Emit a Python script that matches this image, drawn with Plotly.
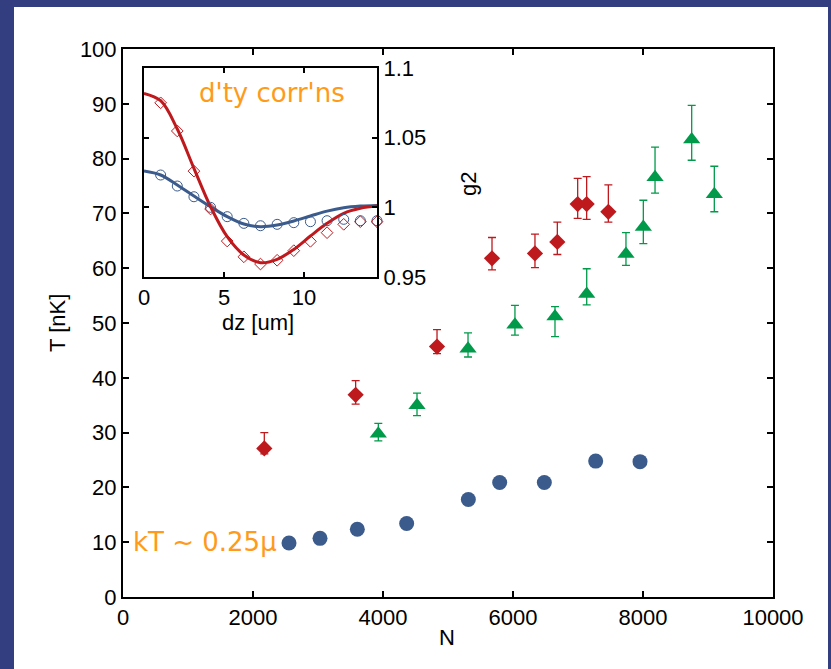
import plotly.graph_objects as go

# ---- main panel: temperature vs atom number ----
n_blue = [2554, 3031, 3605, 4364, 5313, 5795, 6482, 7272, 7954]
t_blue = [9.85, 10.7, 12.35, 13.4, 17.8, 20.9, 20.9, 24.8, 24.7]

n_red = [2174, 3579, 4831, 5677, 6338, 6682, 6995, 7133, 7467]
t_red = [27.1, 36.9, 45.7, 61.8, 62.7, 64.8, 71.7, 71.7, 70.3]
t_red_up = [2.9, 2.6, 3.1, 3.8, 3.5, 3.6, 4.7, 5.0, 4.9]
t_red_dn = [1.0, 1.7, 1.3, 2.1, 2.6, 2.3, 2.6, 2.8, 1.9]

n_green = [3928, 4523, 5308, 6030, 6646, 7134, 7738, 8005, 8185, 8749, 9097]
t_green = [29.8, 35.0, 45.3, 49.7, 51.2, 55.3, 62.6, 67.5, 76.6, 83.5, 73.5]
t_green_up = [1.9, 2.2, 2.9, 3.5, 1.8, 4.6, 3.9, 4.9, 5.5, 6.2, 5.1]
t_green_dn = [1.3, 1.9, 1.5, 1.9, 3.7, 2.0, 2.1, 3.0, 2.9, 3.8, 3.2]

# ---- inset: density correlations g2 vs dz ----
dz_pts = [1.04, 2.08, 3.12, 4.16, 5.2, 6.24, 7.28, 8.32, 9.36, 10.4, 11.44, 12.48, 13.52, 14.56]
g2_red_pts = [1.075, 1.0548, 1.026, 0.9988, 0.9758, 0.9645, 0.9593, 0.962, 0.9689,
              0.9756, 0.9818, 0.9878, 0.9897, 0.9897]
g2_blue_pts = [1.0232, 1.0153, 1.0076, 1.0, 0.9933, 0.9885, 0.9868, 0.9878, 0.989,
               0.9897, 0.9904, 0.9914, 0.9904, 0.9904]

dz_fit = [0.0, 1.04, 2.08, 3.12, 4.16, 5.2, 6.24, 7.28, 8.32, 9.36, 10.4, 11.44, 12.48, 13.52, 14.56]
g2_red_fit = [1.0818, 1.0765, 1.0562, 1.028, 1.0004, 0.9789, 0.9658, 0.9603, 0.9627,
              0.9698, 0.9794, 0.9885, 0.9957, 0.9993, 1.0009]
g2_blue_fit = [1.0261, 1.0232, 1.016, 1.0081, 1.0004, 0.9933, 0.988, 0.9861, 0.9873,
               0.9902, 0.9938, 0.9973, 0.9997, 1.0009, 1.0014]

x_ticks = [0, 2000, 4000, 6000, 8000, 10000]
x_tick_labels = ["0", "2000", "4000", "6000", "8000", "10000"]
y_ticks = [0, 10, 20, 30, 40, 50, 60, 70, 80, 90, 100]
inset_x_ticks = [0, 5, 10]
inset_y_ticks = [0.95, 1.0, 1.05, 1.1]
inset_y_labels = ["0.95", "1", "1.05", "1.1"]

BLUE = "#3b5b8c"
RED = "#be1a1e"
GREEN = "#009a4a"
ORANGE = "#ff9a1a"
FRAME = "#323e7f"
AX_FONT = dict(family="Liberation Sans, Arial", size=22, color="black")
TITLE_FONT = dict(family="Liberation Sans, Arial", size=22, color="black")
TXT_FONT = dict(family="DejaVu Sans", size=26, color=ORANGE)

fig = go.Figure()

fig.add_trace(go.Scatter(
    x=n_blue, y=t_blue, mode="markers",
    marker=dict(symbol="circle", size=15, color=BLUE),
    xaxis="x", yaxis="y"))
fig.add_trace(go.Scatter(
    x=n_red, y=t_red, mode="markers",
    marker=dict(symbol="diamond", size=12.5, color=RED),
    error_y=dict(type="data", symmetric=False, array=t_red_up, arrayminus=t_red_dn,
                 color=RED, thickness=1.3, width=4),
    xaxis="x", yaxis="y"))
fig.add_trace(go.Scatter(
    x=n_green, y=t_green, mode="markers",
    marker=dict(symbol="triangle-up", size=15, color=GREEN),
    error_y=dict(type="data", symmetric=False, array=t_green_up, arrayminus=t_green_dn,
                 color=GREEN, thickness=1.3, width=4),
    xaxis="x", yaxis="y"))

# inset fitted curves and measured points
fig.add_trace(go.Scatter(
    x=dz_fit, y=g2_blue_fit, mode="lines", line=dict(color=BLUE, width=3, shape="spline"),
    xaxis="x2", yaxis="y2", cliponaxis=False))
fig.add_trace(go.Scatter(
    x=dz_fit, y=g2_red_fit, mode="lines", line=dict(color=RED, width=3, shape="spline"),
    xaxis="x2", yaxis="y2", cliponaxis=False))
fig.add_trace(go.Scatter(
    x=dz_pts, y=g2_blue_pts, mode="markers",
    marker=dict(symbol="circle-open", size=10, color=BLUE, line=dict(width=1)),
    xaxis="x2", yaxis="y2", cliponaxis=False))
fig.add_trace(go.Scatter(
    x=dz_pts, y=g2_red_pts, mode="markers",
    marker=dict(symbol="diamond-open", size=9, color=RED, line=dict(width=1)),
    xaxis="x2", yaxis="y2", cliponaxis=False))

axis_common = dict(ticks="inside", tickcolor="black", showline=True, linecolor="black",
                   linewidth=2, mirror="ticks", showgrid=False, zeroline=False,
                   tickfont=AX_FONT)

# plot-area pixel geometry: left 123, right 773, top 49, bottom 597
PW, PH = 650.0, 548.0


def px(xp):
    return (xp - 123) / PW


def py(yp):
    return (597 - yp) / PH


fig.update_layout(
    width=831, height=669,
    margin=dict(l=123, r=58, t=49, b=72),
    paper_bgcolor=FRAME, plot_bgcolor="white",
    showlegend=False,
    xaxis=dict(range=[0, 10000], tickvals=x_ticks, ticktext=x_tick_labels,
               ticklen=6, tickwidth=1.5, domain=[0, 1], anchor="y", **axis_common),
    yaxis=dict(range=[0, 100], tickvals=y_ticks, ticklen=6, tickwidth=1.5,
               domain=[0, 1], anchor="x", **axis_common),
    xaxis2=dict(range=[0, 14.56], tickvals=inset_x_ticks, ticklen=5, tickwidth=1.5,
                domain=[px(144), px(377)], anchor="y2", **axis_common),
    yaxis2=dict(range=[0.95, 1.1], tickvals=inset_y_ticks, ticktext=inset_y_labels,
                ticklen=5, tickwidth=1.5, side="right",
                domain=[py(277), py(68)], anchor="x2", **axis_common),
    shapes=[dict(type="rect", xref="paper", yref="paper",
                 x0=px(14), x1=px(828), y0=py(690), y1=py(7),
                 fillcolor="white", line=dict(width=0), layer="below")],
    annotations=[
        dict(text="d'ty corr'ns", x=px(197), y=py(93), xref="paper", yref="paper",
             xanchor="left", yanchor="middle", showarrow=False, font=TXT_FONT),
        dict(text="kT ~ 0.25μ", x=px(131), y=py(542), xref="paper", yref="paper",
             xanchor="left", yanchor="middle", showarrow=False, font=TXT_FONT),
        dict(text="T [nK]", x=px(57), y=py(323), xref="paper", yref="paper",
             xanchor="center", yanchor="middle", textangle=-90, showarrow=False,
             font=TITLE_FONT),
        dict(text="N", x=px(447), y=py(637), xref="paper", yref="paper",
             xanchor="center", yanchor="middle", showarrow=False, font=TITLE_FONT),
        dict(text="dz [um]", x=px(258), y=py(322), xref="paper", yref="paper",
             xanchor="center", yanchor="middle", showarrow=False, font=TITLE_FONT),
        dict(text="g2", x=px(469), y=py(184), xref="paper", yref="paper",
             xanchor="center", yanchor="middle", textangle=-90, showarrow=False,
             font=TITLE_FONT),
    ],
)

fig.write_html("out.html")
